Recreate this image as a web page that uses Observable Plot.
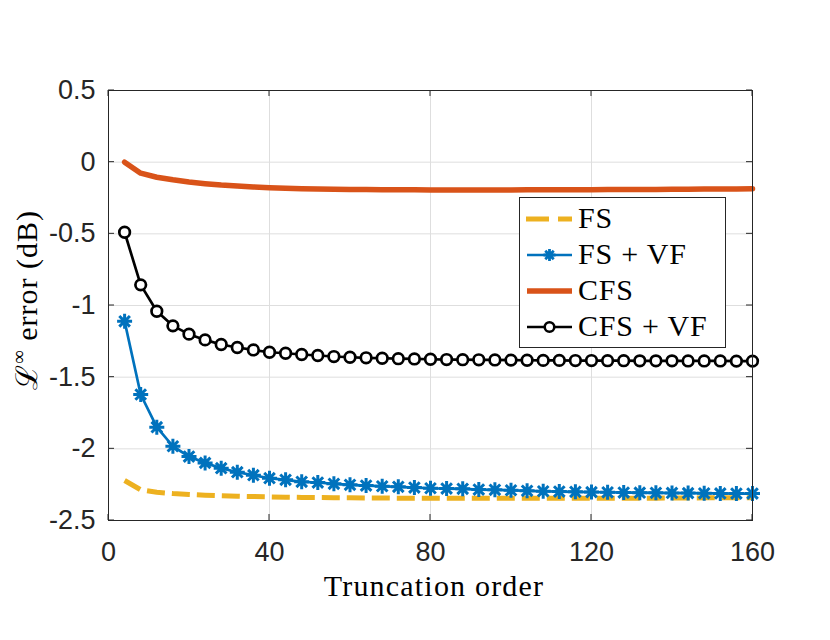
<!DOCTYPE html>
<html>
<head>
<meta charset="utf-8">
<script src="https://cdn.jsdelivr.net/npm/d3@7"></script>
<script src="https://cdn.jsdelivr.net/npm/@observablehq/plot@0.6"></script>
<style>
  html, body { margin: 0; padding: 0; background: #fff; }
  #chart { width: 830px; height: 640px; }
</style>
</head>
<body>
<div id="chart"></div>
<script>
// ---- data ----
const orders = [4, 8, 12, 16, 20, 24, 28, 32, 36, 40, 44, 48, 52, 56, 60, 64, 68, 72, 76, 80,
  84, 88, 92, 96, 100, 104, 108, 112, 116, 120, 124, 128, 132, 136, 140, 144, 148, 152, 156, 160];

const fs = [-2.221, -2.286, -2.303, -2.312, -2.318, -2.323, -2.327, -2.330, -2.333, -2.335,
  -2.337, -2.339, -2.340, -2.341, -2.342, -2.343, -2.343, -2.344, -2.344, -2.344,
  -2.345, -2.345, -2.345, -2.345, -2.345, -2.345, -2.345, -2.345, -2.345, -2.345,
  -2.345, -2.344, -2.344, -2.344, -2.343, -2.343, -2.342, -2.342, -2.341, -2.341];

const fsVf = [-1.110, -1.621, -1.849, -1.982, -2.054, -2.098, -2.135, -2.163, -2.184, -2.205,
  -2.216, -2.230, -2.235, -2.244, -2.251, -2.256, -2.261, -2.265, -2.270, -2.275,
  -2.277, -2.279, -2.284, -2.286, -2.289, -2.293, -2.296, -2.298, -2.300, -2.302,
  -2.303, -2.305, -2.306, -2.307, -2.308, -2.309, -2.310, -2.311, -2.312, -2.312];

const cfs = [0.000, -0.077, -0.105, -0.123, -0.138, -0.150, -0.160, -0.167, -0.173, -0.178,
  -0.182, -0.185, -0.187, -0.189, -0.190, -0.191, -0.192, -0.193, -0.193, -0.194,
  -0.194, -0.194, -0.194, -0.194, -0.194, -0.193, -0.193, -0.193, -0.192, -0.192,
  -0.191, -0.191, -0.190, -0.190, -0.189, -0.189, -0.188, -0.187, -0.187, -0.186];

const cfsVf = [-0.489, -0.856, -1.040, -1.142, -1.200, -1.240, -1.272, -1.293, -1.310, -1.326,
  -1.333, -1.342, -1.349, -1.356, -1.361, -1.365, -1.368, -1.371, -1.373, -1.375,
  -1.377, -1.378, -1.379, -1.380, -1.381, -1.382, -1.383, -1.383, -1.384, -1.384,
  -1.385, -1.385, -1.386, -1.386, -1.386, -1.387, -1.387, -1.387, -1.388, -1.388];

const xTicks = [0, 40, 80, 120, 160];
const yTicks = [-2.5, -2, -1.5, -1, -0.5, 0, 0.5];
const seriesNames = ["FS", "FS + VF", "CFS", "CFS + VF"];
const xLabel = "Truncation order";

// ---- styles ----
const C = { fs: "#EDB120", fsVf: "#0072BD", cfs: "#D95319", cfsVf: "#000000" };
const axisColor = "#262626";
const tickFont = "Liberation Sans, Arial, Helvetica, sans-serif";
const serif = "Liberation Serif, Times New Roman, serif";

const rows = (vals) => orders.map((x, i) => ({ x, y: vals[i] }));
const dFs = rows(fs), dFsVf = rows(fsVf), dCfs = rows(cfs), dCfsVf = rows(cfsVf);

// 8-armed asterisk (MATLAB '*')
const asterisk8 = {
  draw(ctx, size) {
    const r = Math.sqrt(size / Math.PI);
    const d = r * Math.SQRT1_2;
    ctx.moveTo(-r, 0); ctx.lineTo(r, 0);
    ctx.moveTo(0, -r); ctx.lineTo(0, r);
    ctx.moveTo(-d, -d); ctx.lineTo(d, d);
    ctx.moveTo(-d, d); ctx.lineTo(d, -d);
  }
};

const plot = Plot.plot({
  width: 830,
  height: 640,
  marginLeft: 108,
  marginRight: 78,
  marginTop: 90,
  marginBottom: 120,
  style: { background: "#fff", overflow: "visible" },
  x: { domain: [0, 160], ticks: xTicks },
  y: { domain: [-2.5, 0.5], ticks: yTicks },
  marks: [
    Plot.gridX(xTicks, { stroke: "#dedede", strokeOpacity: 1, strokeWidth: 1 }),
    Plot.gridY(yTicks, { stroke: "#dedede", strokeOpacity: 1, strokeWidth: 1 }),
    Plot.axisX(xTicks, { anchor: "bottom", tickSize: 0, tickPadding: 21, fontSize: 27, fontFamily: tickFont, fill: axisColor, label: null, tickFormat: d => String(d) }),
    Plot.axisY(yTicks, { anchor: "left", tickSize: 0, tickPadding: 13, fontSize: 27, fontFamily: tickFont, fill: axisColor, label: null, tickFormat: d => String(d) }),
    Plot.line(dFs, { x: "x", y: "y", stroke: C.fs, strokeWidth: 5, strokeDasharray: "18,7", strokeLinecap: "butt" }),
    Plot.line(dFsVf, { x: "x", y: "y", stroke: C.fsVf, strokeWidth: 2.7 }),
    Plot.dot(dFsVf, { x: "x", y: "y", symbol: asterisk8, r: 7.5, stroke: C.fsVf, fill: "none", strokeWidth: 3 }),
    Plot.line(dCfs, { x: "x", y: "y", stroke: C.cfs, strokeWidth: 5.5 }),
    Plot.line(dCfsVf, { x: "x", y: "y", stroke: C.cfsVf, strokeWidth: 2.7 }),
    Plot.dot(dCfsVf, { x: "x", y: "y", r: 5.3, stroke: C.cfsVf, fill: "#fff", strokeWidth: 2.7 }),
    Plot.frame({ stroke: axisColor, strokeWidth: 1 })
  ]
});

document.getElementById("chart").appendChild(plot);

// inward ticks on all four sides, placed with the plot's own scales
const sx = plot.scale("x"), sy = plot.scale("y");
const svg = d3.select(plot);
const x0 = sx.apply(0), x1 = sx.apply(160), y0 = sy.apply(-2.5), y1 = sy.apply(0.5);
const tk = 6;
const tg = svg.append("g").attr("stroke", axisColor).attr("stroke-width", 1);
xTicks.forEach(t => {
  const px = sx.apply(t);
  tg.append("line").attr("x1", px).attr("x2", px).attr("y1", y0).attr("y2", y0 - tk);
  tg.append("line").attr("x1", px).attr("x2", px).attr("y1", y1).attr("y2", y1 + tk);
});
yTicks.forEach(t => {
  const py = sy.apply(t);
  tg.append("line").attr("y1", py).attr("y2", py).attr("x1", x0).attr("x2", x0 + tk);
  tg.append("line").attr("y1", py).attr("y2", py).attr("x1", x1).attr("x2", x1 - tk);
});

// axis titles
svg.append("text")
  .attr("x", (x0 + x1) / 2 + 4).attr("y", 596)
  .attr("text-anchor", "middle")
  .attr("font-family", serif).attr("font-size", 30).attr("letter-spacing", 1.2).attr("fill", "#000")
  .text(xLabel);

const yl = svg.append("text")
  .attr("transform", `translate(37, ${(y0 + y1) / 2 - 5}) rotate(-90)`)
  .attr("text-anchor", "middle")
  .attr("font-family", serif).attr("font-size", 30).attr("letter-spacing", 1).attr("fill", "#000");
yl.append("tspan").attr("font-family", "DejaVu Serif, serif").text("ℒ");
yl.append("tspan").attr("font-size", 19).attr("dy", -12).text("∞");
yl.append("tspan").attr("dy", 12).text(" error (dB)");

// legend
const lg = svg.append("g").attr("text-anchor", "start");
const lx = 519.5, ly = 197.5, lw = 206, lh = 150;
lg.append("rect").attr("x", lx).attr("y", ly).attr("width", lw).attr("height", lh)
  .attr("fill", "#fff").attr("stroke", axisColor).attr("stroke-width", 1);
const entryY = [219, 255, 291, 327];
const styles = [
  { stroke: C.fs, w: 5, dash: true },
  { stroke: C.fsVf, w: 2.7, marker: "star" },
  { stroke: C.cfs, w: 5.5 },
  { stroke: C.cfsVf, w: 2.7, marker: "circle" }
];
seriesNames.forEach((name, i) => {
  const s = styles[i], cy = entryY[i];
  const ln = lg.append("line").attr("x1", 527).attr("x2", 572).attr("y1", cy).attr("y2", cy)
    .attr("stroke", s.stroke).attr("stroke-width", s.w);
  if (s.dash) ln.attr("stroke-dasharray", "23,9").attr("x1", 526);
  if (s.marker === "star") {
    lg.append("path").attr("d", d3.symbol(asterisk8, Math.PI * 6 * 6)())
      .attr("transform", `translate(549.5, ${cy})`).attr("stroke", s.stroke).attr("stroke-width", 2.8).attr("fill", "none");
  } else if (s.marker === "circle") {
    lg.append("circle").attr("cx", 549.5).attr("cy", cy).attr("r", 4.8)
      .attr("stroke", s.stroke).attr("stroke-width", 2.6).attr("fill", "#fff");
  }
  lg.append("text").attr("x", 578).attr("y", cy + 9)
    .attr("text-anchor", "start")
    .attr("font-family", serif).attr("font-size", 30).attr("letter-spacing", 0.8).attr("fill", "#000")
    .text(name);
});
</script>
</body>
</html>
